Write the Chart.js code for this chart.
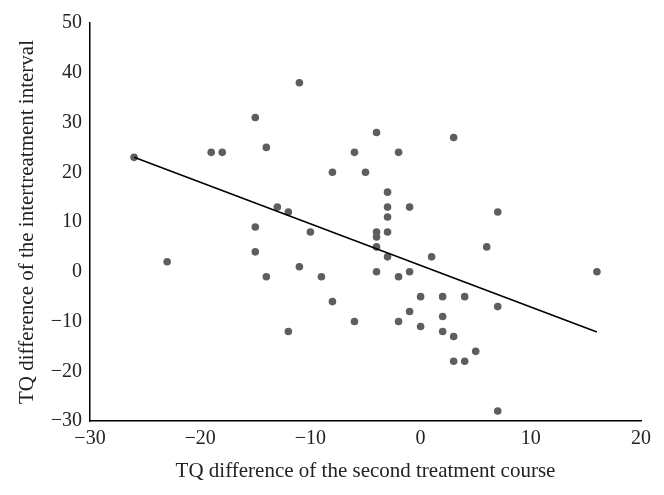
<!DOCTYPE html>
<html>
<head>
<meta charset="utf-8">
<script src="https://cdn.jsdelivr.net/npm/chart.js@4/dist/chart.umd.min.js"></script>
<style>
  html, body { margin: 0; padding: 0; background: #fff; }
  #wrap { width: 664px; height: 495px; position: relative; }
</style>
</head>
<body>
<div id="wrap"><canvas id="c" width="664" height="495"></canvas></div>
<script>
// TQ difference of the second treatment course (x) vs TQ difference of the intertreatment interval (y)
const pointsX = [-26, -23, -19, -18, -15, -15, -15, -14, -14, -13, -12, -12, -11, -11, -10, -9, -8, -8, -6, -6,
                 -5, -4, -4, -4, -4, -4, -3, -3, -3, -3, -3, -2, -2, -2, -1, -1, -1, 0, 0, 1,
                 2, 2, 2, 3, 3, 3, 4, 4, 5, 6, 7, 7, 7, 16];
const pointsY = [23, 2, 24, 24, 31, 9, 4, 25, -1, 13, 12, -12, 38, 1, 8, -1, 20, -6, 24, -10,
                 20, 28, 8, 7, 5, 0, 16, 13, 11, 8, 3, 24, -1, -10, 13, 0, -8, -5, -11, 3,
                 -5, -9, -12, 27, -13, -18, -5, -18, -16, 5, 12, -7, -28, 0];
// fitted regression line end points
const lineX = [-26, 16];
const lineY = [23, -12.1];
const xTicks = [-30, -20, -10, 0, 10, 20];
const yTicks = [-30, -20, -10, 0, 10, 20, 30, 40, 50];

const scatterData = pointsX.map((x, i) => ({ x: x, y: pointsY[i] }));
const lineData = lineX.map((x, i) => ({ x: x, y: lineY[i] }));

const FONT = "'Liberation Serif', 'DejaVu Serif', serif";
const minus = v => String(v).replace('-', '\u2212');

new Chart(document.getElementById('c'), {
  type: 'scatter',
  data: {
    datasets: [
      {
        label: 'points',
        data: scatterData,
        backgroundColor: '#5e5e5e',
        borderColor: '#5e5e5e',
        pointRadius: 3.8,
        pointBorderWidth: 0,
        order: 2
      },
      {
        type: 'line',
        label: 'fit',
        data: lineData,
        borderColor: '#000',
        borderWidth: 1.6,
        pointRadius: 0,
        fill: false,
        order: 1
      }
    ]
  },
  options: {
    responsive: false,
    animation: false,
    devicePixelRatio: 1,
    layout: { padding: { left: 0, right: 23, top: 23, bottom: 0 } },
    plugins: { legend: { display: false }, tooltip: { enabled: false } },
    scales: {
      x: {
        type: 'linear',
        min: -30, max: 20,
        afterBuildTicks: s => { s.ticks = xTicks.map(v => ({ value: v })); },
        afterFit: s => { s.height = 74; },
        grid: { display: false, drawTicks: false },
        border: { display: true, color: '#000', width: 1.5 },
        ticks: {
          padding: 6,
          color: '#222',
          font: { family: FONT, size: 20 },
          callback: v => minus(v),
          maxRotation: 0
        },
        title: {
          display: true,
          text: 'TQ difference of the second treatment course',
          color: '#222',
          font: { family: FONT, size: 21 },
          padding: { top: 0, bottom: 11 }
        }
      },
      y: {
        type: 'linear',
        min: -30, max: 50,
        afterBuildTicks: s => { s.ticks = yTicks.map(v => ({ value: v })); },
        afterFit: s => { s.width = 90; },
        grid: { display: false, drawTicks: false },
        border: { display: true, color: '#000', width: 1.5 },
        ticks: {
          padding: 8,
          color: '#222',
          font: { family: FONT, size: 20 },
          callback: v => minus(v)
        },
        title: {
          display: true,
          text: 'TQ difference of the intertreatment interval',
          color: '#222',
          font: { family: FONT, size: 21 },
          padding: { top: 15, bottom: 15 }
        }
      }
    }
  }
});
</script>
</body>
</html>
